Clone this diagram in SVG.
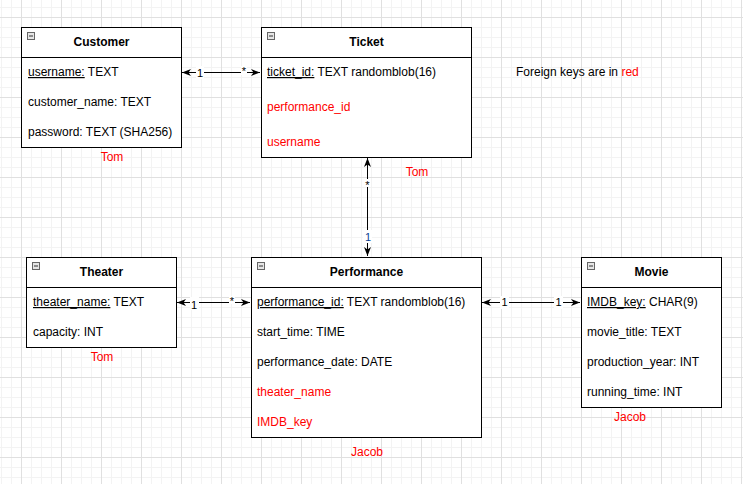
<svg xmlns="http://www.w3.org/2000/svg" width="743" height="484" viewBox="0 0 743 484">
<style>
text{font-family:"Liberation Sans",Arial,sans-serif;font-size:12px;fill:#000}
.t{font-weight:bold;text-anchor:middle}
.r{fill:#ff0000}
.u{text-decoration:underline}
.box{fill:#fff;stroke:#000;stroke-width:1}
.hl{stroke:#000;stroke-width:1}
.ic{fill:#e6e6e6;stroke:#666;stroke-width:1}
.icm{stroke:#333;stroke-width:1}
.own{fill:#ff0000;text-anchor:middle}
.edge{stroke:#000;stroke-width:1;fill:none}
.lbl{font-size:11px;text-anchor:middle}
.lb{fill:#fff}
</style>
<defs>
<pattern id="grid" x="21" y="17" width="40" height="40" patternUnits="userSpaceOnUse">
<path d="M10.5 0V40M20.5 0V40M30.5 0V40M0 10.5H40M0 20.5H40M0 30.5H40" stroke="#f3f3f3" stroke-width="1"/>
<path d="M0.5 0V40M0 0.5H40" stroke="#e0e0e0" stroke-width="1"/>
</pattern>
<marker id="ae" viewBox="0 0 10 8" refX="9" refY="4" markerWidth="10" markerHeight="8" orient="auto-start-reverse" markerUnits="userSpaceOnUse">
<path d="M0,0.5 L9,4 L0,7.5 L2.5,4 z" fill="#000"/>
</marker>
</defs>
<rect width="743" height="484" fill="#fff"/>
<rect width="743" height="484" fill="url(#grid)"/>

<g id="connectors">
<path class="edge" d="M182 72.5H260" marker-start="url(#ae)" marker-end="url(#ae)"/>
<rect class="lb" x="196" y="66" width="8" height="13"/>
<text class="lbl" x="200" y="77">1</text>
<rect class="lb" x="241" y="66" width="6" height="9"/>
<text class="lbl" x="244" y="75">*</text>

<path class="edge" d="M367.5 158V256" marker-start="url(#ae)" marker-end="url(#ae)"/>
<rect class="lb" x="364" y="179" width="7" height="8"/>
<text class="lbl" x="367.5" y="189">*</text>
<rect class="lb" x="363" y="230" width="9" height="13"/>
<text class="lbl" x="368" y="241" style="fill:#0b3d91">1</text>

<path class="edge" d="M177 302.5H250" marker-start="url(#ae)" marker-end="url(#ae)"/>
<rect class="lb" x="190" y="297" width="9" height="13"/>
<text class="lbl" x="194" y="309">1</text>
<rect class="lb" x="229" y="296" width="6" height="8"/>
<text class="lbl" x="232" y="305">*</text>

<path class="edge" d="M482 302.5H580" marker-start="url(#ae)" marker-end="url(#ae)"/>
<rect class="lb" x="500" y="296" width="9" height="13"/>
<text class="lbl" x="504.5" y="306">1</text>
<rect class="lb" x="554" y="296" width="9" height="13"/>
<text class="lbl" x="558.5" y="306">1</text>
</g>

<g id="customer">
<rect class="box" x="21.5" y="27.5" width="160" height="120"/>
<line class="hl" x1="21.5" y1="57.5" x2="181.5" y2="57.5"/>
<rect class="ic" x="27.5" y="32.5" width="7" height="7"/>
<line class="icm" x1="29" y1="36" x2="33" y2="36"/>
<text class="t" x="101.5" y="46">Customer</text>
<text x="28" y="76"><tspan class="u">username:</tspan> TEXT</text>
<text x="28" y="106">customer_name: TEXT</text>
<text x="28" y="136">password: TEXT (SHA256)</text>
</g>
<text class="own" x="112" y="161">Tom</text>

<g id="ticket">
<rect class="box" x="261.5" y="27.5" width="210" height="130"/>
<line class="hl" x1="261.5" y1="57.5" x2="471.5" y2="57.5"/>
<rect class="ic" x="267.5" y="32.5" width="7" height="7"/>
<line class="icm" x1="269" y1="36" x2="273" y2="36"/>
<text class="t" x="366.5" y="46">Ticket</text>
<text x="267" y="76"><tspan class="u">ticket_id:</tspan> TEXT randomblob(16)</text>
<text class="r" x="267" y="111">performance_id</text>
<text class="r" x="267" y="146">username</text>
</g>
<text class="own" x="417" y="176">Tom</text>

<text x="516" y="76">Foreign keys are in <tspan class="r">red</tspan></text>

<g id="theater">
<rect class="box" x="26.5" y="257.5" width="150" height="90"/>
<line class="hl" x1="26.5" y1="287.5" x2="176.5" y2="287.5"/>
<rect class="ic" x="32.5" y="262.5" width="7" height="7"/>
<line class="icm" x1="34" y1="266" x2="38" y2="266"/>
<text class="t" x="101.5" y="276">Theater</text>
<text x="33" y="306"><tspan class="u">theater_name:</tspan> TEXT</text>
<text x="33" y="336">capacity: INT</text>
</g>
<text class="own" x="102" y="361">Tom</text>

<g id="performance">
<rect class="box" x="251.5" y="257.5" width="230" height="180"/>
<line class="hl" x1="251.5" y1="287.5" x2="481.5" y2="287.5"/>
<rect class="ic" x="257.5" y="262.5" width="7" height="7"/>
<line class="icm" x1="259" y1="266" x2="263" y2="266"/>
<text class="t" x="366.5" y="276">Performance</text>
<text x="257" y="306"><tspan class="u">performance_id:</tspan> TEXT randomblob(16)</text>
<text x="257" y="336">start_time: TIME</text>
<text x="257" y="366">performance_date: DATE</text>
<text class="r" x="257" y="396">theater_name</text>
<text class="r" x="257" y="426">IMDB_key</text>
</g>
<text class="own" x="367" y="456">Jacob</text>

<g id="movie">
<rect class="box" x="581.5" y="257.5" width="140" height="150"/>
<line class="hl" x1="581.5" y1="287.5" x2="721.5" y2="287.5"/>
<rect class="ic" x="587.5" y="262.5" width="7" height="7"/>
<line class="icm" x1="589" y1="266" x2="593" y2="266"/>
<text class="t" x="651.5" y="276">Movie</text>
<text x="587" y="306"><tspan class="u">IMDB_key:</tspan> CHAR(9)</text>
<text x="587" y="336">movie_title: TEXT</text>
<text x="587" y="366">production_year: INT</text>
<text x="587" y="396">running_time: INT</text>
</g>
<text class="own" x="630" y="421">Jacob</text>
</svg>
